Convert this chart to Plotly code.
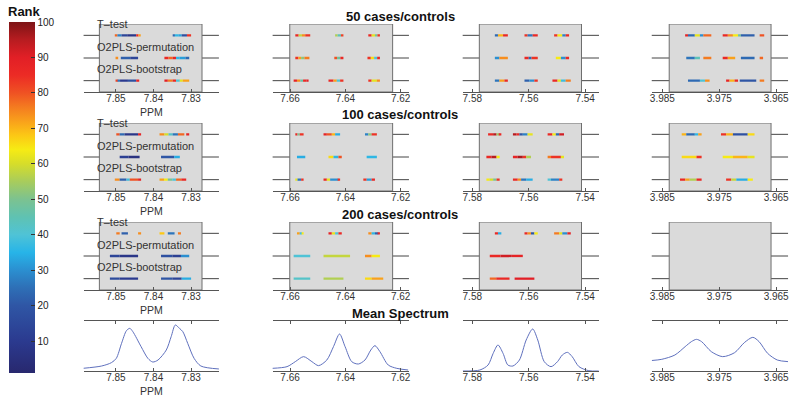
import plotly.graph_objects as go

W, H = 800, 403
FONT = "Liberation Sans, Arial, Helvetica, sans-serif"

# ---------------- data ----------------
ROW_TITLES = ["50 cases/controls", "100 cases/controls", "200 cases/controls", "Mean Spectrum"]
METHODS = ["T\u2013test", "O2PLS-permutation", "O2PLS-bootstrap"]
METHOD_LINE = [3, 2, 1]

COL_TICKS = [[7.85, 7.84, 7.83], [7.66, 7.64, 7.62], [7.58, 7.56, 7.54], [3.985, 3.975, 3.965]]
COL_TICKTEXT = [["7.85", "7.84", "7.83"], ["7.66", "7.64", "7.62"],
                ["7.58", "7.56", "7.54"], ["3.985", "3.975", "3.965"]]
COL_RANGE = [[7.8586, 7.8226], [7.6663, 7.6170], [7.5834, 7.5351], [3.98687, 3.96291]]
BOX_PPM = [[7.8544, 7.8271], [7.6601, 7.6229], [7.5775, 7.5413], [3.9838, 3.9659]]

RANK_TICKS = [10, 20, 30, 40, 50, 60, 70, 80, 90, 100]

# strips: per column, per method (T-test, permutation, bootstrap): (segment edges in ppm, rank of each segment)
STRIPS_50 = [
    [([7.8503, 7.8496, 7.8485, 7.8470, 7.8446, 7.8440, 7.8434, 7.8349, 7.8343, 7.8334, 7.8325, 7.8311, 7.8300],
      [78, 28, 14, 8, 86, 72, None, 24, 36, 33, 18, 84]),
     ([7.8501, 7.8494, 7.8487, 7.8462, 7.8441, 7.8371, 7.8360, 7.8349, 7.8340, 7.8331, 7.8315, 7.8305],
      [74, None, 22, 14, None, 86, 78, 88, 36, 32, 24]),
     ([7.8501, 7.8494, 7.8489, 7.8468, 7.8446, 7.8438, 7.8371, 7.8362, 7.8349, 7.8340, 7.8330, 7.8322, 7.8305],
      [82, 26, 10, 18, 88, None, 90, 76, 86, 40, 62, 72])],
    [([7.6581, 7.6569, 7.6557, 7.6545, 7.6527, 7.6437, 7.6428, 7.6416, 7.6407, 7.6317, 7.6305, 7.6293, 7.6284, 7.6275],
      [86, 58, 74, 84, None, 56, 44, 82, None, 86, 62, 50, 84]),
     ([7.6581, 7.6570, 7.6560, 7.6548, 7.6530, 7.6440, 7.6430, 7.6418, 7.6407, 7.6320, 7.6308, 7.6296, 7.6285, 7.6275],
      [84, 72, 52, 76, None, 80, 48, 86, None, 84, 66, 40, 86]),
     ([7.6587, 7.6575, 7.6563, 7.6553, 7.6541, 7.6533, 7.6461, 7.6443, 7.6431, 7.6419, 7.6407, 7.6317, 7.6305, 7.6286, 7.6275],
      [88, 74, 46, 86, 90, None, 86, 72, 40, 84, None, 84, 62, 74])],
    [([7.5720, 7.5709, 7.5691, 7.5674, 7.5615, 7.5604, 7.5586, 7.5568, 7.5510, 7.5498, 7.5481, 7.5469, 7.5457],
      [24, 70, 86, None, 84, 26, 86, None, 84, 64, 28, 86]),
     ([7.5720, 7.5704, 7.5674, 7.5615, 7.5600, 7.5590, 7.5568, 7.5504, 7.5486, 7.5469, 7.5457],
      [30, 74, None, 86, 24, 84, None, 64, 30, 86]),
     ([7.5720, 7.5704, 7.5686, 7.5674, 7.5615, 7.5598, 7.5580, 7.5568, 7.5516, 7.5498, 7.5486, 7.5469, 7.5451],
      [26, 72, 86, None, 22, 30, 84, None, 86, 62, 38, 76])],
    [([3.9810, 3.9805, 3.9793, 3.9784, 3.9778, 3.9764, 3.9744, 3.9735, 3.9726, 3.9717, 3.9712, 3.9688, 3.9679, 3.9671],
      [88, 24, 62, 30, 78, None, 86, 74, 64, 48, 22, None, 80]),
     ([3.9808, 3.9793, 3.9784, 3.9778, 3.9764, 3.9744, 3.9735, 3.9722, 3.9712, 3.9688, 3.9679, 3.9673],
      [26, 44, None, 76, None, 86, 72, None, 24, None, 78]),
     ([3.9805, 3.9784, 3.9775, 3.9767, 3.9738, 3.9732, 3.9723, 3.9717, 3.9714, 3.9685, 3.9679, 3.9671],
      [24, 40, 74, None, 88, 70, 86, None, 20, None, 76])],
]

STRIPS_100 = [
    [([7.8499, 7.8490, 7.8477, 7.8441, 7.8433, 7.8384, 7.8371, 7.8360, 7.8349, 7.8335, 7.8318, 7.8313, 7.8305],
      [80, 24, 8, 88, None, 74, 60, 42, 26, 78, None, 88]),
     ([7.8490, 7.8466, 7.8437, 7.8380, 7.8345, 7.8330],
      [12, 6, None, 20, 34]),
     ([7.8503, 7.8490, 7.8472, 7.8463, 7.8441, 7.8433, 7.8384, 7.8372, 7.8362, 7.8350, 7.8340, 7.8326, 7.8313],
      [74, 22, 38, 80, 88, None, 72, 64, 50, 40, 78, 86])],
    [([7.6581, 7.6573, 7.6565, 7.6551, 7.6479, 7.6467, 7.6449, 7.6437, 7.6419, 7.6329, 7.6317, 7.6305, 7.6286],
      [86, 50, 84, None, 88, 80, 70, 34, None, 28, 52, 84]),
     ([7.6575, 7.6545, 7.6461, 7.6443, 7.6425, 7.6413, 7.6323, 7.6286],
      [34, None, 66, 36, 80, None, 36]),
     ([7.6581, 7.6573, 7.6560, 7.6551, 7.6479, 7.6467, 7.6455, 7.6425, 7.6419, 7.6335, 7.6323, 7.6305, 7.6293],
      [62, 26, 84, None, 86, 62, 30, 84, None, 84, 32, 86])],
    [([7.5744, 7.5726, 7.5714, 7.5703, 7.5697, 7.5656, 7.5644, 7.5633, 7.5621, 7.5604, 7.5586,
       7.5533, 7.5516, 7.5504, 7.5492, 7.5475],
      [86, 95, 54, 86, None, 95, 86, 20, 28, 62, None, 86, 64, 24, 92]),
     ([7.5750, 7.5732, 7.5714, 7.5703, 7.5656, 7.5639, 7.5621, 7.5609, 7.5592, 7.5533, 7.5521, 7.5486, 7.5475],
      [86, 95, 64, None, 88, 96, 84, 56, None, 76, 84, 62]),
     ([7.5750, 7.5739, 7.5726, 7.5714, 7.5703, 7.5656, 7.5639, 7.5627, 7.5609, 7.5586, 7.5533, 7.5521, 7.5492, 7.5481],
      [64, 60, 50, 84, None, 86, 74, 26, 34, None, 40, 28, 84])],
    [([3.9816, 3.9808, 3.9793, 3.9787, 3.9781, 3.9747, 3.9738, 3.9726, 3.9700, 3.9688],
      [70, 24, 36, 72, None, 84, 70, 18, 66]),
     ([3.9816, 3.9790, 3.9781, 3.9744, 3.9726, 3.9700, 3.9688],
      [66, 84, None, 64, 70, 62]),
     ([3.9819, 3.9810, 3.9802, 3.9790, 3.9781, 3.9738, 3.9729, 3.9720, 3.9700, 3.9691],
      [86, 72, 56, 86, None, 84, 58, 34, 64])],
]

STRIPS_200 = [
    [([7.8499, 7.8490, 7.8485, 7.8468, 7.8441, 7.8433, 7.8384, 7.8371, 7.8362, 7.8344, 7.8335, 7.8327],
      [76, None, 22, None, 74, None, 68, None, 26, None, 76]),
     ([7.8516, 7.8490, 7.8441, 7.8380, 7.8350, 7.8327, 7.8305],
      [14, 8, None, 18, 12, 30]),
     ([7.8516, 7.8490, 7.8441, 7.8380, 7.8350, 7.8325, 7.8300],
      [16, 10, None, 20, 14, 34])],
    [([7.6575, 7.6565, 7.6557, 7.6551, 7.6461, 7.6449, 7.6437, 7.6425, 7.6413, 7.6317, 7.6305, 7.6293, 7.6281, 7.6275],
      [72, 38, 64, None, 88, 62, 40, 86, None, 74, 36, 22, 88]),
     ([7.6587, 7.6527, 7.6479, 7.6383, 7.6329, 7.6305, 7.6275],
      [40, None, 58, None, 74, 64]),
     ([7.6587, 7.6527, 7.6479, 7.6407, 7.6329, 7.6305, 7.6263],
      [42, None, 56, None, 66, 72])],
    [([7.5720, 7.5709, 7.5697, 7.5615, 7.5604, 7.5592, 7.5580, 7.5568, 7.5510, 7.5492, 7.5481, 7.5463, 7.5451],
      [86, 34, None, 86, 74, 20, 64, None, 76, 62, 30, 88]),
     ([7.5738, 7.5700, 7.5660, 7.5621],
      [86, 92, 88]),
     ([7.5738, 7.5715, 7.5668, 7.5650, 7.5580],
      [78, 86, None, 90])],
    [([], []), ([], []), ([], [])],
]
STRIPS = [STRIPS_50, STRIPS_100, STRIPS_200]

# mean spectra (ppm, relative intensity)
SPEC1_PPM = [7.8587, 7.8538, 7.8512, 7.8499, 7.8485, 7.8472, 7.8463, 7.8455, 7.8433, 7.8415, 7.8402,
             7.8388, 7.8366, 7.8353, 7.8342, 7.8331, 7.8322, 7.8309, 7.8292, 7.8274, 7.8225]
SPEC1_INT = [0.054, 0.10, 0.167, 0.253, 0.553, 0.807, 0.853, 0.787, 0.487, 0.253, 0.18,
             0.22, 0.42, 0.687, 0.92, 0.853, 0.787, 0.553, 0.253, 0.10, 0.04]
SPEC2_PPM = [7.6665, 7.6611, 7.6581, 7.6551, 7.6521, 7.6497, 7.6467, 7.6443, 7.6421, 7.6401,
             7.6377, 7.6353, 7.6329, 7.6308, 7.6293, 7.6275, 7.6245, 7.6214, 7.6173]
SPEC2_INT = [0.053, 0.087, 0.187, 0.287, 0.187, 0.107, 0.22, 0.487, 0.74, 0.487,
             0.187, 0.14, 0.22, 0.42, 0.507, 0.387, 0.12, 0.053, 0.02]
SPEC3_PPM = [7.5834, 7.5773, 7.5744, 7.5726, 7.5709, 7.5691, 7.5674, 7.5656, 7.5633, 7.5609, 7.5586,
             7.5568, 7.5545, 7.5521, 7.5498, 7.5481, 7.5463, 7.5446, 7.5422, 7.5387, 7.5352]
SPEC3_INT = [0.0, 0.02, 0.12, 0.353, 0.52, 0.353, 0.12, 0.10, 0.22, 0.62, 0.84,
             0.62, 0.187, 0.087, 0.187, 0.32, 0.373, 0.287, 0.087, 0.006, 0.0]
SPEC4_PPM = [3.98687, 3.9851, 3.9828, 3.9810, 3.9799, 3.9790, 3.9781, 3.9764, 3.9744,
             3.9723, 3.9706, 3.9691, 3.9680, 3.9665, 3.9648, 3.9629]
SPEC4_INT = [0.21, 0.234, 0.32, 0.487, 0.587, 0.633, 0.587, 0.387, 0.287,
             0.367, 0.567, 0.673, 0.587, 0.353, 0.22, 0.187]
SPECTRA = [(SPEC1_PPM, SPEC1_INT), (SPEC2_PPM, SPEC2_INT), (SPEC3_PPM, SPEC3_INT), (SPEC4_PPM, SPEC4_INT)]

# ---------------- style / layout ----------------
RANK_STOPS = [1, 10, 20, 25, 30, 35, 40, 45, 50, 55, 60, 64, 68, 72, 76, 80, 85, 90, 95, 100]
RANK_COLORS = ["#28286e", "#2b3a8f", "#2f56a5", "#2e6fb6", "#2b8fd0", "#27b4e8", "#4fc3d6", "#5fc2b2",
               "#7cc290", "#a8cc5c", "#d6dd2a", "#f6eb14", "#fcc815", "#f9a11b", "#f47b20", "#ef5223",
               "#ec2b25", "#e21f26", "#b71c20", "#7d1416"]
CS = [[(v - 1) / 99.0, c] for v, c in zip(RANK_STOPS, RANK_COLORS)]

COL_PX = [(82, 218), (272, 409), (463, 600), (653, 790)]
ROW_PX = [(24, 92), (123, 191), (222, 290), (321, 371)]

fig = go.Figure()
layout = dict(width=W, height=H, margin=dict(l=0, r=0, t=0, b=0), autosize=False,
              paper_bgcolor="white", plot_bgcolor="white", barmode="overlay",
              font=dict(family=FONT, color="#222", size=10), showlegend=False)
shapes, annotations = [], []
first_bar = True


def ax_names(idx):
    s = "" if idx == 1 else str(idx)
    return "x" + s, "y" + s, "xaxis" + s, "yaxis" + s


for r in range(4):
    for c in range(4):
        idx = r * 4 + c + 1
        xa, ya, xk, yk = ax_names(idx)
        top, bot = ROW_PX[r]
        layout[xk] = dict(domain=[COL_PX[c][0] / W, COL_PX[c][1] / W], range=COL_RANGE[c],
                          anchor=ya, showgrid=False, zeroline=False, showline=True,
                          linecolor="#555", linewidth=1, ticks="inside", ticklen=3,
                          tickcolor="#555", tickvals=COL_TICKS[c], ticktext=COL_TICKTEXT[c],
                          tickfont=dict(size=10, color="#333", family=FONT),
                          ticklabelstandoff=-3,
                          mirror="ticks" if r == 3 else False, fixedrange=True)
        if r < 3:
            layout[yk] = dict(domain=[1 - bot / H, 1 - top / H], range=[0.5, 3.5], anchor=xa,
                              visible=False, fixedrange=True)
            shapes.append(dict(type="rect", xref=xa, yref=ya, x0=BOX_PPM[c][0], x1=BOX_PPM[c][1],
                               y0=0.5, y1=3.5, fillcolor="#dadada",
                               line=dict(color="#6e6e6e", width=1), layer="below"))
            for yl in METHOD_LINE:
                shapes.append(dict(type="line", xref=f"{xa} domain", yref=ya, x0=0, x1=1,
                                   y0=yl, y1=yl, line=dict(color="#444", width=1), layer="below"))
            bases, lens, ys, cols = [], [], [], []
            for m in range(3):
                edges, ranks = STRIPS[r][c][m]
                for i, rk in enumerate(ranks):
                    if rk is None:
                        continue
                    bases.append(edges[i])
                    lens.append(edges[i + 1] - edges[i])
                    ys.append(METHOD_LINE[m])
                    cols.append(rk)
            if bases:
                marker = dict(color=cols, colorscale=CS, cmin=1, cmax=100, line=dict(width=0))
                if first_bar:
                    marker.update(showscale=True, colorbar=dict(
                        x=7 / W, xanchor="left", xpad=0, y=1 - 197.5 / H, yanchor="middle",
                        len=351 / H, lenmode="fraction", ypad=0, thickness=26,
                        thicknessmode="pixels", tickvals=RANK_TICKS, ticks="inside",
                        ticklen=4, tickcolor="#333", outlinewidth=0,
                        tickfont=dict(size=10, color="#222", family=FONT)))
                    first_bar = False
                fig.add_trace(go.Bar(x=lens, base=bases, y=ys, orientation="h", width=0.1,
                                     marker=marker, xaxis=xa, yaxis=ya, hoverinfo="skip"))
        else:
            layout[yk] = dict(domain=[1 - bot / H, 1 - top / H], range=[0, 1], anchor=xa,
                              visible=False, fixedrange=True)
            sp, si = SPECTRA[c]
            fig.add_trace(go.Scatter(x=sp, y=si, mode="lines", xaxis=xa, yaxis=ya,
                                     line=dict(color="#5f70bd", width=1, shape="spline",
                                               smoothing=0.8),
                                     hoverinfo="skip"))

# row titles, PPM labels, method labels
for r in range(4):
    top, bot = ROW_PX[r]
    annotations.append(dict(text=f"<b>{ROW_TITLES[r]}</b>", x=0.5, y=1 - (top - 8) / H,
                            xref="paper", yref="paper", showarrow=False, xanchor="center",
                            yanchor="middle", font=dict(size=13, color="#111", family=FONT)))
    annotations.append(dict(text="PPM", x=(COL_PX[0][0] + COL_PX[0][1]) / 2 / W,
                            y=1 - (bot + 20) / H, xref="paper", yref="paper", showarrow=False,
                            xanchor="center", yanchor="middle",
                            font=dict(size=10.5, color="#333", family=FONT)))
    if r < 3:
        xa, ya, _, _ = ax_names(r * 4 + 1)
        for m in range(3):
            annotations.append(dict(text=METHODS[m], x=7.8556, y=METHOD_LINE[m] + 0.5,
                                    xref=xa, yref=ya, showarrow=False,
                                    xanchor="left", yanchor="middle",
                                    font=dict(size=11, color="#333", family=FONT)))

annotations.append(dict(text="<b>Rank</b>", x=23 / W, y=1 - 12 / H, xref="paper", yref="paper",
                        showarrow=False, xanchor="center", yanchor="middle",
                        font=dict(size=13, color="#111", family=FONT)))

layout["shapes"] = shapes
layout["annotations"] = annotations
fig.update_layout(**layout)
fig.write_html("out.html", config={"displayModeBar": False},
               post_script="document.body.style.margin='0';document.body.style.padding='0';")
